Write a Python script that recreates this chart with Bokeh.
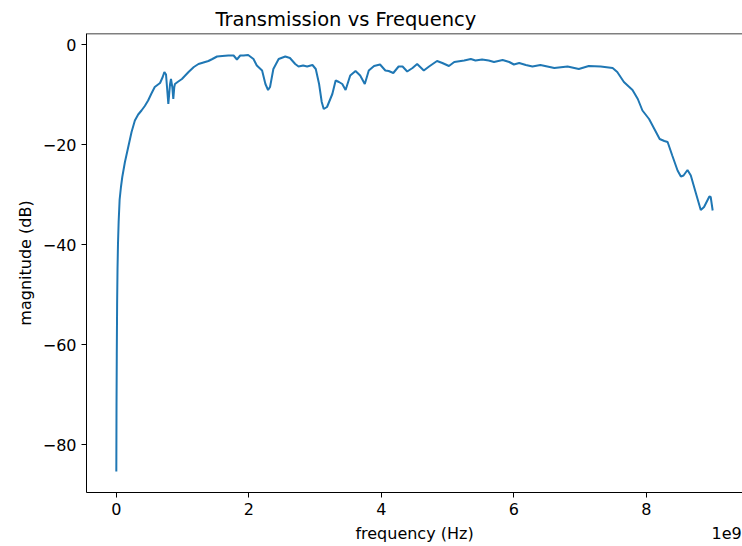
from bokeh.plotting import figure
from bokeh.models import (Range1d, FixedTicker, CustomJSTickFormatter, ColumnDataSource,
                          LinearAxis, Span)
from bokeh.embed import file_html
from bokeh.resources import INLINE

# frequency in GHz (plotted in Hz) and transmission magnitude in dB
freq_ghz = [0.0, 0.003, 0.007, 0.012, 0.018, 0.025, 0.035, 0.05, 0.07, 0.09, 0.13, 0.18, 0.23, 0.28,
            0.33, 0.38, 0.43, 0.48, 0.53, 0.58, 0.66, 0.70, 0.725, 0.75, 0.765, 0.785, 0.81, 0.825,
            0.845, 0.86, 0.875, 0.885, 0.925, 0.99, 1.09, 1.17, 1.24, 1.39, 1.45, 1.52, 1.60, 1.69,
            1.77, 1.82, 1.87, 1.92, 1.99, 2.07, 2.12, 2.20, 2.25, 2.29, 2.32, 2.37, 2.45, 2.55, 2.62,
            2.70, 2.75, 2.82, 2.88, 2.96, 3.01, 3.06, 3.10, 3.13, 3.18, 3.26, 3.31, 3.36, 3.41, 3.46,
            3.53, 3.61, 3.68, 3.75, 3.81, 3.89, 3.98, 4.06, 4.11, 4.18, 4.26, 4.32, 4.39, 4.47, 4.54,
            4.64, 4.72, 4.84, 4.92, 5.02, 5.10, 5.25, 5.35, 5.42, 5.52, 5.62, 5.70, 5.83, 5.93, 6.00,
            6.08, 6.18, 6.28, 6.40, 6.61, 6.81, 6.98, 7.13, 7.31, 7.49, 7.56, 7.66, 7.79, 7.87, 7.94,
            8.04, 8.12, 8.20, 8.27, 8.32, 8.39, 8.47, 8.52, 8.56, 8.62, 8.67, 8.75, 8.82, 8.87, 8.95,
            8.97, 9.00]
magnitude_db = [-85.4, -72.0, -62.0, -52.0, -45.0, -40.0, -35.5, -31.0, -28.5, -26.5, -23.5, -20.5,
                -17.5, -15.2, -14.0, -13.2, -12.3, -11.2, -9.8, -8.5, -7.7, -6.5, -5.5, -6.0, -8.5,
                -11.9, -8.0, -6.9, -8.5, -10.9, -8.5, -7.9, -7.5, -6.9, -5.5, -4.5, -3.9, -3.3, -2.9,
                -2.4, -2.3, -2.2, -2.2, -3.0, -2.2, -2.2, -2.1, -2.9, -4.2, -5.2, -7.9, -9.1, -8.5,
                -4.9, -2.9, -2.4, -2.7, -3.9, -4.4, -4.2, -4.4, -4.1, -4.9, -7.9, -11.5, -12.9, -12.5,
                -9.9, -7.2, -7.5, -7.9, -9.1, -6.2, -5.3, -6.2, -7.9, -5.2, -4.3, -4.0, -5.2, -5.3,
                -5.7, -4.4, -4.4, -5.4, -4.7, -3.9, -5.2, -4.4, -3.3, -3.7, -4.3, -3.5, -3.2, -2.9,
                -3.2, -3.0, -3.2, -3.5, -3.1, -3.5, -4.0, -3.7, -4.1, -4.4, -4.1, -4.7, -4.4, -4.9,
                -4.3, -4.4, -4.7, -5.5, -7.5, -9.1, -10.9, -13.2, -14.9, -16.9, -18.9, -19.3, -19.5,
                -22.2, -25.2, -26.4, -26.2, -25.1, -26.2, -29.9, -33.1, -32.5, -30.4, -30.5, -33.2]

x_ticks = [0, 2e9, 4e9, 6e9, 8e9]
y_ticks = [-80, -60, -40, -20, 0]

title_text = "Transmission vs Frequency"
x_label = "frequency (Hz)"
y_label = "magnitude (dB)"
offset_text = "1e9"

FONT = "DejaVu Sans"
TXT = "16px"
X_MIN, X_MAX = -0.45e9, 9.45e9
Y_MIN, Y_MAX = -89.6, 2.2

src = ColumnDataSource(data=dict(f=[v * 1e9 for v in freq_ghz], m=magnitude_db))

p = figure(width=742, height=546, output_backend="svg", toolbar_location=None,
           x_range=Range1d(X_MIN, X_MAX), y_range=Range1d(Y_MIN, Y_MAX),
           min_border_left=86, min_border_right=0, min_border_top=33, min_border_bottom=54)

p.line("f", "m", source=src, line_color="#1f77b4", line_width=2)

p.title.text = title_text
p.title.align = "left"
p.title.offset = 129
p.title.standoff = 6
p.title.text_font = FONT
p.title.text_font_size = "19.5px"
p.title.text_font_style = "normal"
p.title.text_color = "black"

p.xgrid.visible = False
p.ygrid.visible = False
p.outline_line_color = None
p.background_fill_color = "white"
p.border_fill_color = "white"
# top edge of the axes box (right edge lies just outside the picture in the reference)
p.add_layout(Span(location=Y_MAX, dimension="width", line_color="black", line_width=1.5))

for ax in (p.xaxis[0], p.yaxis[0]):
    ax.axis_line_color = "black"
    ax.major_tick_line_color = "black"
    ax.major_tick_out = 5
    ax.major_tick_in = 0
    ax.minor_tick_line_color = None
    ax.major_label_standoff = 5
    ax.major_label_text_font = FONT
    ax.major_label_text_font_size = TXT
    ax.major_label_text_color = "black"
    ax.axis_label_text_font = FONT
    ax.axis_label_text_font_size = TXT
    ax.axis_label_text_font_style = "normal"
    ax.axis_label_text_color = "black"
    ax.axis_label_standoff = 5

p.xaxis[0].ticker = FixedTicker(ticks=x_ticks)
p.yaxis[0].ticker = FixedTicker(ticks=y_ticks)
p.xaxis[0].formatter = CustomJSTickFormatter(code="return String(Math.round(tick/1e9));")
p.yaxis[0].formatter = CustomJSTickFormatter(
    code="var v = Math.round(tick); return v < 0 ? '\u2212' + Math.abs(v) : String(v);")
p.yaxis[0].axis_label = y_label

# second row under the x axis: axis title (centred) and the offset text "1e9" (right)
label_row = LinearAxis(
    ticker=FixedTicker(ticks=[(X_MIN + X_MAX) / 2, 9.21e9]),
    formatter=CustomJSTickFormatter(
        args=dict(lbl=x_label, off=offset_text),
        code="return tick > 8.5e9 ? off : lbl;"),
    axis_line_color=None, major_tick_line_color=None, minor_tick_line_color=None,
    major_tick_out=0, major_tick_in=0, major_label_standoff=6,
    major_label_text_font=FONT, major_label_text_font_size=TXT,
    major_label_text_color="black")
p.add_layout(label_row, "below")

open("out.html", "w").write(file_html(p, INLINE))
